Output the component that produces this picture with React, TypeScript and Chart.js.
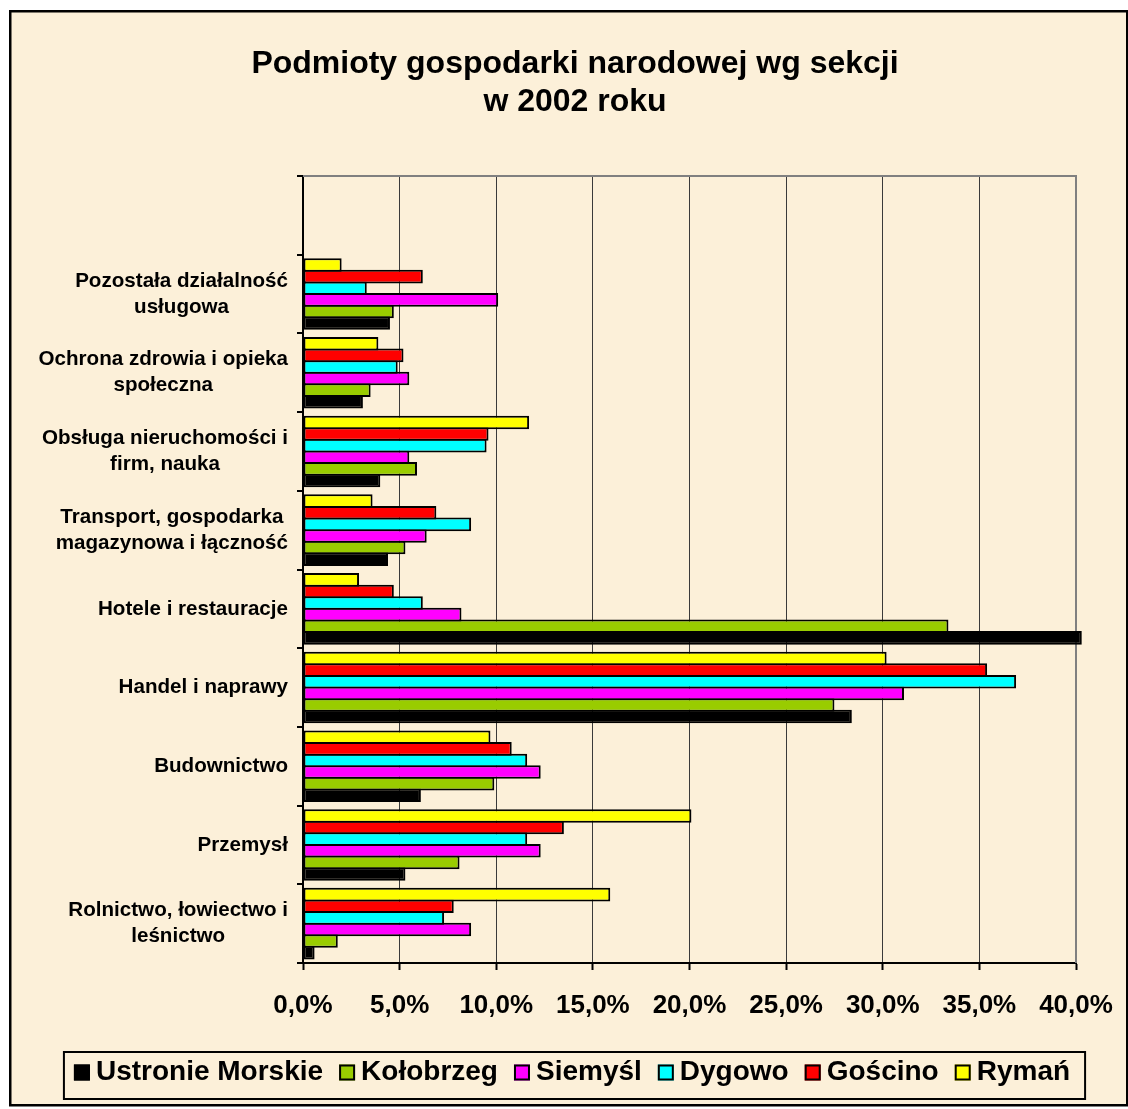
import React, { useEffect, useRef } from 'react';
import { Chart, registerables } from 'chart.js';

Chart.register(...registerables);

const FONT = '"Liberation Sans", Arial, Helvetica, sans-serif';

const TITLE_LINES = ['Podmioty gospodarki narodowej wg sekcji', 'w 2002 roku'];

// categories from bottom to top (y axis reversed)
const categories: string[][] = [
  ['Rolnictwo, łowiectwo i', 'leśnictwo'],
  ['Przemysł'],
  ['Budownictwo'],
  ['Handel i naprawy'],
  ['Hotele i restauracje'],
  ['Transport, gospodarka', 'magazynowa i łączność'],
  ['Obsługa nieruchomości i', 'firm, nauka'],
  ['Ochrona zdrowia i opieka', 'społeczna'],
  ['Pozostała działalność', 'usługowa'],
  [''],
];

const seriesNames = ['Ustronie Morskie', 'Kołobrzeg', 'Siemyśl', 'Dygowo', 'Gościno', 'Rymań'];
const seriesColors = ['#000000', '#99CC00', '#FF00FF', '#00FFFF', '#FF0000', '#FFFF00'];

const ustronieMorskie = [0.6, 5.3, 6.1, 28.4, 40.3, 4.4, 4.0, 3.1, 4.5, null];
const kolobrzeg = [1.8, 8.1, 9.9, 27.5, 33.4, 5.3, 5.9, 3.5, 4.7, null];
const siemysl = [8.7, 12.3, 12.3, 31.1, 8.2, 6.4, 5.5, 5.5, 10.1, null];
const dygowo = [7.3, 11.6, 11.6, 36.9, 6.2, 8.7, 9.5, 4.9, 3.3, null];
const goscino = [7.8, 13.5, 10.8, 35.4, 4.7, 6.9, 9.6, 5.2, 6.2, null];
const ryman = [15.9, 20.1, 9.7, 30.2, 2.9, 3.6, 11.7, 3.9, 2.0, null];

const seriesValues = [ustronieMorskie, kolobrzeg, siemysl, dygowo, goscino, ryman];

const X_MIN = 0;
const X_MAX = 40;
const X_STEP = 5;

const W = 1128;
const H = 1109;

const backgroundPlugin = {
  id: 'parchmentBackground',
  beforeDraw(chart: any) {
    const ctx = chart.ctx;
    ctx.save();
    ctx.fillStyle = '#ffffff';
    ctx.fillRect(0, 0, chart.width, chart.height);
    ctx.fillStyle = '#FCF0D9';
    ctx.fillRect(10, 11, 1117, 1095);
    ctx.strokeStyle = '#000000';
    ctx.lineWidth = 2.5;
    ctx.strokeRect(10.25, 11.25, 1117, 1094);
    ctx.restore();
  },
};

const plotBorderPlugin = {
  id: 'plotBorder',
  beforeDatasetsDraw(chart: any) {
    const { ctx, chartArea } = chart;
    ctx.save();
    ctx.strokeStyle = '#808080';
    ctx.lineWidth = 2;
    ctx.beginPath();
    ctx.moveTo(chartArea.left, chartArea.top);
    ctx.lineTo(chartArea.right, chartArea.top);
    ctx.lineTo(chartArea.right, chartArea.bottom);
    ctx.stroke();
    ctx.restore();
  },
};

const categoryLabelPlugin = {
  id: 'categoryLabels',
  afterDraw(chart: any) {
    const { ctx, chartArea } = chart;
    const yScale = chart.scales.y;
    const rightEdge = chartArea.left - 15;
    const lineH = 26;
    ctx.save();
    ctx.font = `bold 20.6px ${FONT}`;
    ctx.fillStyle = '#000000';
    ctx.textAlign = 'center';
    ctx.textBaseline = 'middle';
    categories.forEach((lines, i) => {
      const cy = yScale.getPixelForValue(i);
      const maxW = Math.max(...lines.map((l) => ctx.measureText(l).width));
      const cx = rightEdge - maxW / 2;
      lines.forEach((l, j) => {
        ctx.fillText(l, cx, cy + (j - (lines.length - 1) / 2) * lineH);
      });
    });
    ctx.restore();
  },
};

const legendPlugin = {
  id: 'framedLegend',
  afterDraw(chart: any) {
    const ctx = chart.ctx;
    const box = 16;
    const boxGap = 6;
    const itemGap = 16;
    const cy = 1072.5;
    ctx.save();
    ctx.font = `bold 28px ${FONT}`;
    const widths = seriesNames.map((n) => ctx.measureText(n).width);
    const total =
      widths.reduce((a, w) => a + box + boxGap + w, 0) + itemGap * (seriesNames.length - 1);
    let x = 572 - total / 2;
    const frameLeft = x - 10;
    const frameRight = x + total + 15;
    ctx.strokeStyle = '#000000';
    ctx.lineWidth = 2;
    ctx.strokeRect(frameLeft, 1052, frameRight - frameLeft, 47);
    seriesNames.forEach((n, i) => {
      ctx.fillStyle = seriesColors[i];
      ctx.fillRect(x, cy - 8, box, box);
      ctx.lineWidth = 2;
      ctx.strokeStyle = '#000000';
      ctx.strokeRect(x + 1, cy - 7, box - 2, box - 2);
      ctx.fillStyle = '#000000';
      ctx.textAlign = 'left';
      ctx.textBaseline = 'middle';
      ctx.fillText(n, x + box + boxGap, cy);
      x += box + boxGap + widths[i] + itemGap;
    });
    ctx.restore();
  },
};

export default function App() {
  const canvasRef = useRef<HTMLCanvasElement | null>(null);

  useEffect(() => {
    const canvas = canvasRef.current;
    if (!canvas) return;

    // datasets ordered so that the first series sits at the bottom of each group
    const datasets = seriesNames
      .map((name, i) => ({
        label: name,
        data: seriesValues[i],
        backgroundColor: seriesColors[i],
        borderColor: '#000000',
        borderWidth: 2,
        borderSkipped: false,
        clip: false as any,
        categoryPercentage: 0.885,
        barPercentage: 1.172,
      }))
      .reverse();

    const chart = new Chart(canvas, {
      type: 'bar',
      data: {
        labels: categories,
        datasets,
      },
      options: {
        indexAxis: 'y',
        responsive: false,
        animation: false,
        devicePixelRatio: 1,
        layout: { padding: { top: 10, left: 74, right: 52, bottom: 90 } },
        plugins: {
          legend: { display: false },
          tooltip: { enabled: false },
          title: {
            display: true,
            text: TITLE_LINES,
            color: '#000000',
            font: { family: FONT, size: 32, weight: 'bold', lineHeight: 1.2 },
            padding: { top: 34.8, bottom: 54.4 },
          },
        },
        scales: {
          x: {
            type: 'linear',
            position: 'bottom',
            min: X_MIN,
            max: X_MAX,
            afterFit: (s: any) => {
              s.height = 56;
              s.paddingLeft = 0;
              s.paddingRight = 0;
            },
            border: { display: true, color: '#000000', width: 2 },
            grid: {
              color: '#3a3a3a',
              lineWidth: 1,
              drawTicks: true,
              tickLength: 7,
              tickColor: '#000000',
              tickWidth: 2,
            },
            ticks: {
              stepSize: X_STEP,
              autoSkip: false,
              padding: 20,
              color: '#000000',
              font: { family: FONT, size: 26, weight: 'bold' },
              callback: (v: any) => Number(v).toFixed(1).replace('.', ',') + '%',
            },
          },
          y: {
            type: 'category',
            reverse: true,
            offset: true,
            afterFit: (s: any) => {
              s.width = 229;
            },
            border: { display: true, color: '#000000', width: 2 },
            grid: {
              display: true,
              offset: true,
              drawOnChartArea: false,
              drawTicks: true,
              tickLength: 6,
              color: '#000000',
              lineWidth: 2,
            },
            ticks: { display: false },
          },
        },
      } as any,
      plugins: [backgroundPlugin, plotBorderPlugin, categoryLabelPlugin, legendPlugin],
    });

    return () => {
      chart.destroy();
    };
  }, []);

  return (
    <div style={{ position: 'absolute', left: 0, top: 0, width: W, height: H }}>
      <canvas ref={canvasRef} width={W} height={H} style={{ display: 'block' }} />
    </div>
  );
}
